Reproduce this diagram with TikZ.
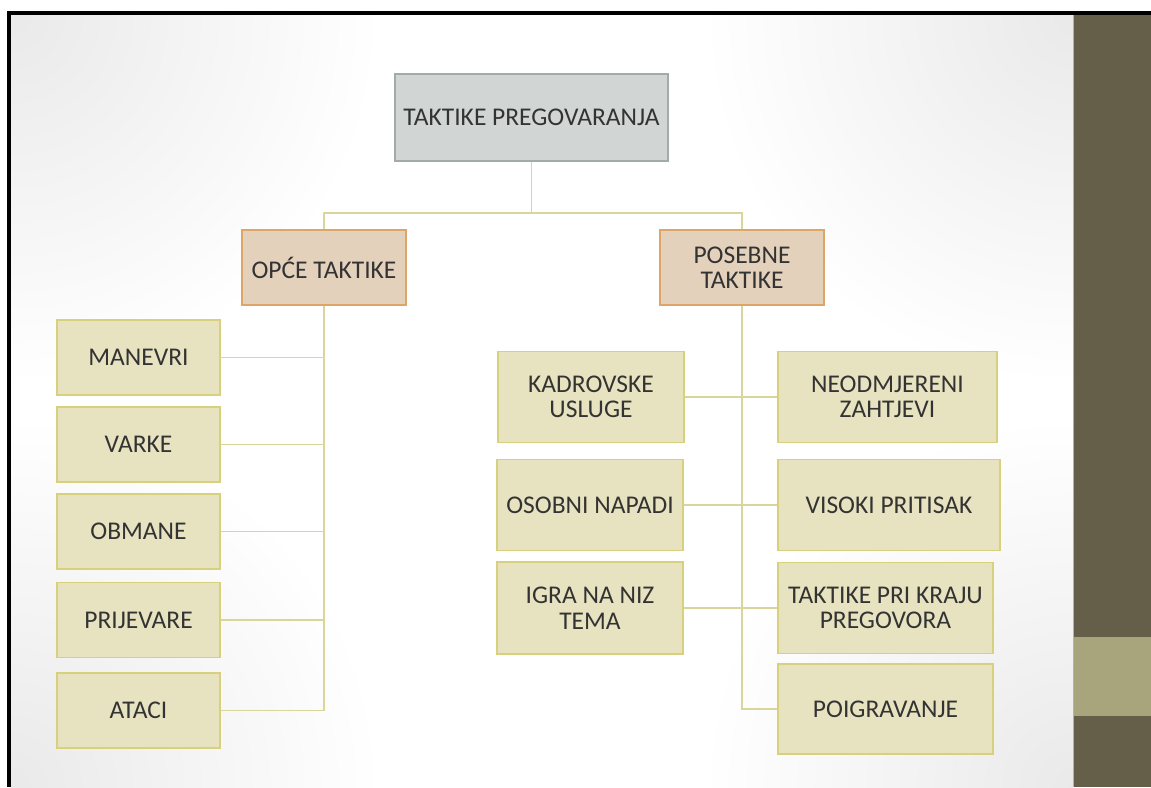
\documentclass[tikz,border=0pt]{standalone}
\usepackage{fontspec}
\setmainfont{Carlito}
\usetikzlibrary{calc}

\definecolor{rootfill}{HTML}{D1D5D3}
\definecolor{rootline}{HTML}{A3ABA8}
\definecolor{catfill}{HTML}{E4D1BB}
\definecolor{catline}{HTML}{DDA666}
\definecolor{leaffill}{HTML}{E7E3C0}
\definecolor{leafline}{HTML}{D7D07C}
\definecolor{linkcol}{HTML}{DAD59A}
\definecolor{txt}{HTML}{333333}
\definecolor{banddark}{HTML}{655E48}
\definecolor{bandlight}{HTML}{A8A47C}

\tikzset{
  box/.style={draw, line width=1.3pt, inner sep=0pt, align=center, text=txt,
    font=\fontsize{25.5}{25.5}\selectfont},
  rootbox/.style={box, draw=rootline, fill=rootfill},
  catbox/.style={box, draw=catline, fill=catfill, minimum width=164pt, minimum height=75pt},
  leafbox/.style={box, draw=leafline, fill=leaffill},
  link/.style={draw=linkcol, line width=1.8pt}
}

\begin{document}
\begin{tikzpicture}[x=1pt,y=-1pt]
\useasboundingbox (0,0) rectangle (1151,787);
\fill[white] (0,0) rectangle (1151,787);
% slide background and frame
\begin{scope}
\clip (11,15) rectangle (1073,787);
\foreach \cx/\cy in {11/15,1073/15,11/787,1073/787}{\shade[inner color=gray!17, outer color=white] (\cx,\cy) circle (370);}
\end{scope}
\fill[banddark] (1073,15) rectangle (1151,787);
\fill[bandlight] (1073,637) rectangle (1151,716);
\draw[gray!60, line width=0.8pt] (1073,15) -- (1073,787);
\fill[black] (7,11) rectangle (1151,15);
\fill[black] (7,11) rectangle (11,787);

% top levels
\node[rootbox, minimum width=273pt, minimum height=87pt] (root) at (531.5,117.5) {TAKTIKE PREGOVARANJA};
\node[catbox] (opce) at (324,267.5) {OPĆE TAKTIKE};
\node[catbox] (posebne) at (742,267.5) {POSEBNE\\TAKTIKE};

% opce taktike
\node[leafbox, minimum width=163pt, minimum height=75pt] (manevri) at (138.5,357.5) {MANEVRI};
\node[leafbox, minimum width=163pt, minimum height=75pt] (varke) at (138.5,444.5) {VARKE};
\node[leafbox, minimum width=163pt, minimum height=75pt] (obmane) at (138.5,531.5) {OBMANE};
\node[leafbox, minimum width=163pt, minimum height=75pt] (prijevare) at (138.5,620) {PRIJEVARE};
\node[leafbox, minimum width=163pt, minimum height=75pt] (ataci) at (138.5,710.5) {ATACI};

% posebne taktike
\node[leafbox, minimum width=186pt, minimum height=91pt] (kadrovske) at (591,397) {KADROVSKE\\USLUGE};
\node[leafbox, minimum width=186pt, minimum height=91pt] (osobni) at (590,505) {OSOBNI NAPADI};
\node[leafbox, minimum width=186pt, minimum height=92pt] (igra) at (590,608) {IGRA NA NIZ\\TEMA};
\node[leafbox, minimum width=219pt, minimum height=91pt] (neodmjereni) at (887.5,397) {NEODMJERENI\\ZAHTJEVI};
\node[leafbox, minimum width=222pt, minimum height=91pt] (visoki) at (889,505) {VISOKI PRITISAK};
\node[leafbox, minimum width=215pt, minimum height=91pt] (kraj) at (885.5,608) {TAKTIKE PRI KRAJU\\PREGOVORA};
\node[leafbox, minimum width=215pt, minimum height=90pt] (poigravanje) at (885.5,709) {POIGRAVANJE};

% connectors
\draw[link] (root.south) -- ++(0,51) coordinate (split);
\draw[link] (opce.north) |- (split) -| (posebne.north);
\draw[link] (opce.south) |- (ataci.east);
\foreach \n in {manevri,varke,obmane,prijevare}{\draw[link] (\n.east) -- (\n.east -| opce.south);}
\draw[link] (posebne.south) |- (poigravanje.west);
\draw[link] (kadrovske.east) -- (neodmjereni.west);
\draw[link] (osobni.east) -- (visoki.west);
\draw[link] (igra.east) -- (kraj.west);

\end{tikzpicture}
\end{document}
